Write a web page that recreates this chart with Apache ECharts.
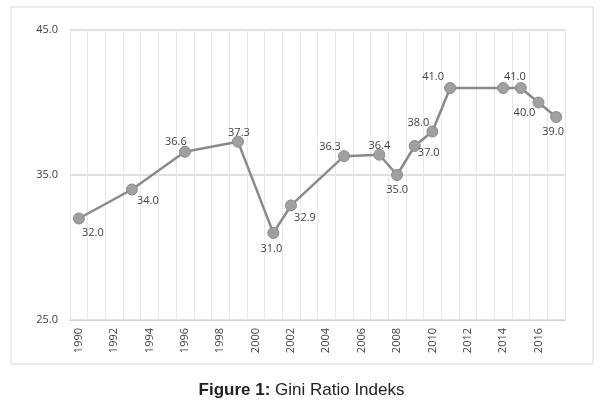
<!DOCTYPE html>
<html><head><meta charset="utf-8">
<script src="https://cdn.jsdelivr.net/npm/echarts@6/dist/echarts.min.js"></script>
<style>html,body{margin:0;padding:0;background:#fff}#c{width:603px;height:414px}</style>
</head><body><div id="c"></div>
<script>
const years = [];
for (let y = 1990; y <= 2017; y++) years.push(String(y));
const pointYears = ['1990','1993','1996','1999','2001','2002','2005','2007','2008','2009','2010','2011','2014','2015','2016','2017'];
const giniValues = [32.0,34.0,36.6,37.3,31.0,32.9,36.3,36.4,35.0,37.0,38.0,41.0,41.0,41.0,40.0,39.0];
const yTicks = [25, 35, 45];
const titleBold = 'Figure 1:';
const titleRest = ' Gini Ratio Indeks';

// label placement (offsets from the point) per year
const labelOffsets = {
  '1990':[14,14],'1993':[16,11],'1996':[-9,-10],'1999':[1,-9],'2001':[-2,16],
  '2002':[14,12],'2005':[-14,-9],'2007':[0,-9],'2008':[0,15],'2009':[14,7],
  '2010':[-14,-9],'2011':[-17,-11],'2015':[-6,-11],'2016':[-14,10],'2017':[-3,15]
};

const seriesData = years.map(y => {
  const i = pointYears.indexOf(y);
  if (i < 0) return null;
  const off = labelOffsets[y];
  return {
    value: giniValues[i],
    label: off ? {show:true, position:'inside', offset: off} : {show:false}
  };
});

const chart = echarts.init(document.getElementById('c'));
chart.setOption({
  animation:false,
  graphic:[{type:'rect', shape:{x:11,y:7,width:582,height:357}, style:{fill:'none', stroke:'#d9d9d9', lineWidth:1}}],
  title:{
    text:'{b|'+titleBold+'}{r|'+titleRest+'}',
    left:'center', top:377,
    textStyle:{fontWeight:'normal', rich:{
      b:{fontFamily:'Liberation Sans', fontWeight:'bold', fontSize:17, color:'#222'},
      r:{fontFamily:'Liberation Sans', fontWeight:'normal', fontSize:17, color:'#222'}
    }}
  },
  grid:{left:70, right:38, top:30, bottom:94},
  xAxis:{
    type:'category', data:years, boundaryGap:true,
    axisLine:{show:true, lineStyle:{color:'#d0d0d0', width:1}},
    axisTick:{show:false},
    axisLabel:{interval:1, rotate:90, color:'#404040', fontFamily:'Open Sans', fontSize:11, margin:8},
    splitLine:{show:true, interval:0, lineStyle:{color:'#e8e8e8', width:1}}
  },
  yAxis:{
    type:'value', min:25, max:45, interval:10,
    axisLine:{show:false}, axisTick:{show:false},
    axisLabel:{color:'#404040', fontFamily:'Open Sans', fontSize:11, margin:12,
      formatter:v => yTicks.includes(v) ? v.toFixed(1) : ''},
    splitLine:{lineStyle:{color:'#d4d4d4', width:1.5}}
  },
  series:[{
    type:'line', data:seriesData, connectNulls:true,
    symbol:'circle', symbolSize:11,
    lineStyle:{color:'#8a8a8a', width:2.5},
    itemStyle:{color:'#a0a0a0', borderColor:'#8a8a8a', borderWidth:1},
    label:{color:'#404040', fontFamily:'Open Sans', fontSize:11,
      formatter:p => p.value.toFixed(1), align:'center', verticalAlign:'middle'}
  }]
});
</script></body></html>
